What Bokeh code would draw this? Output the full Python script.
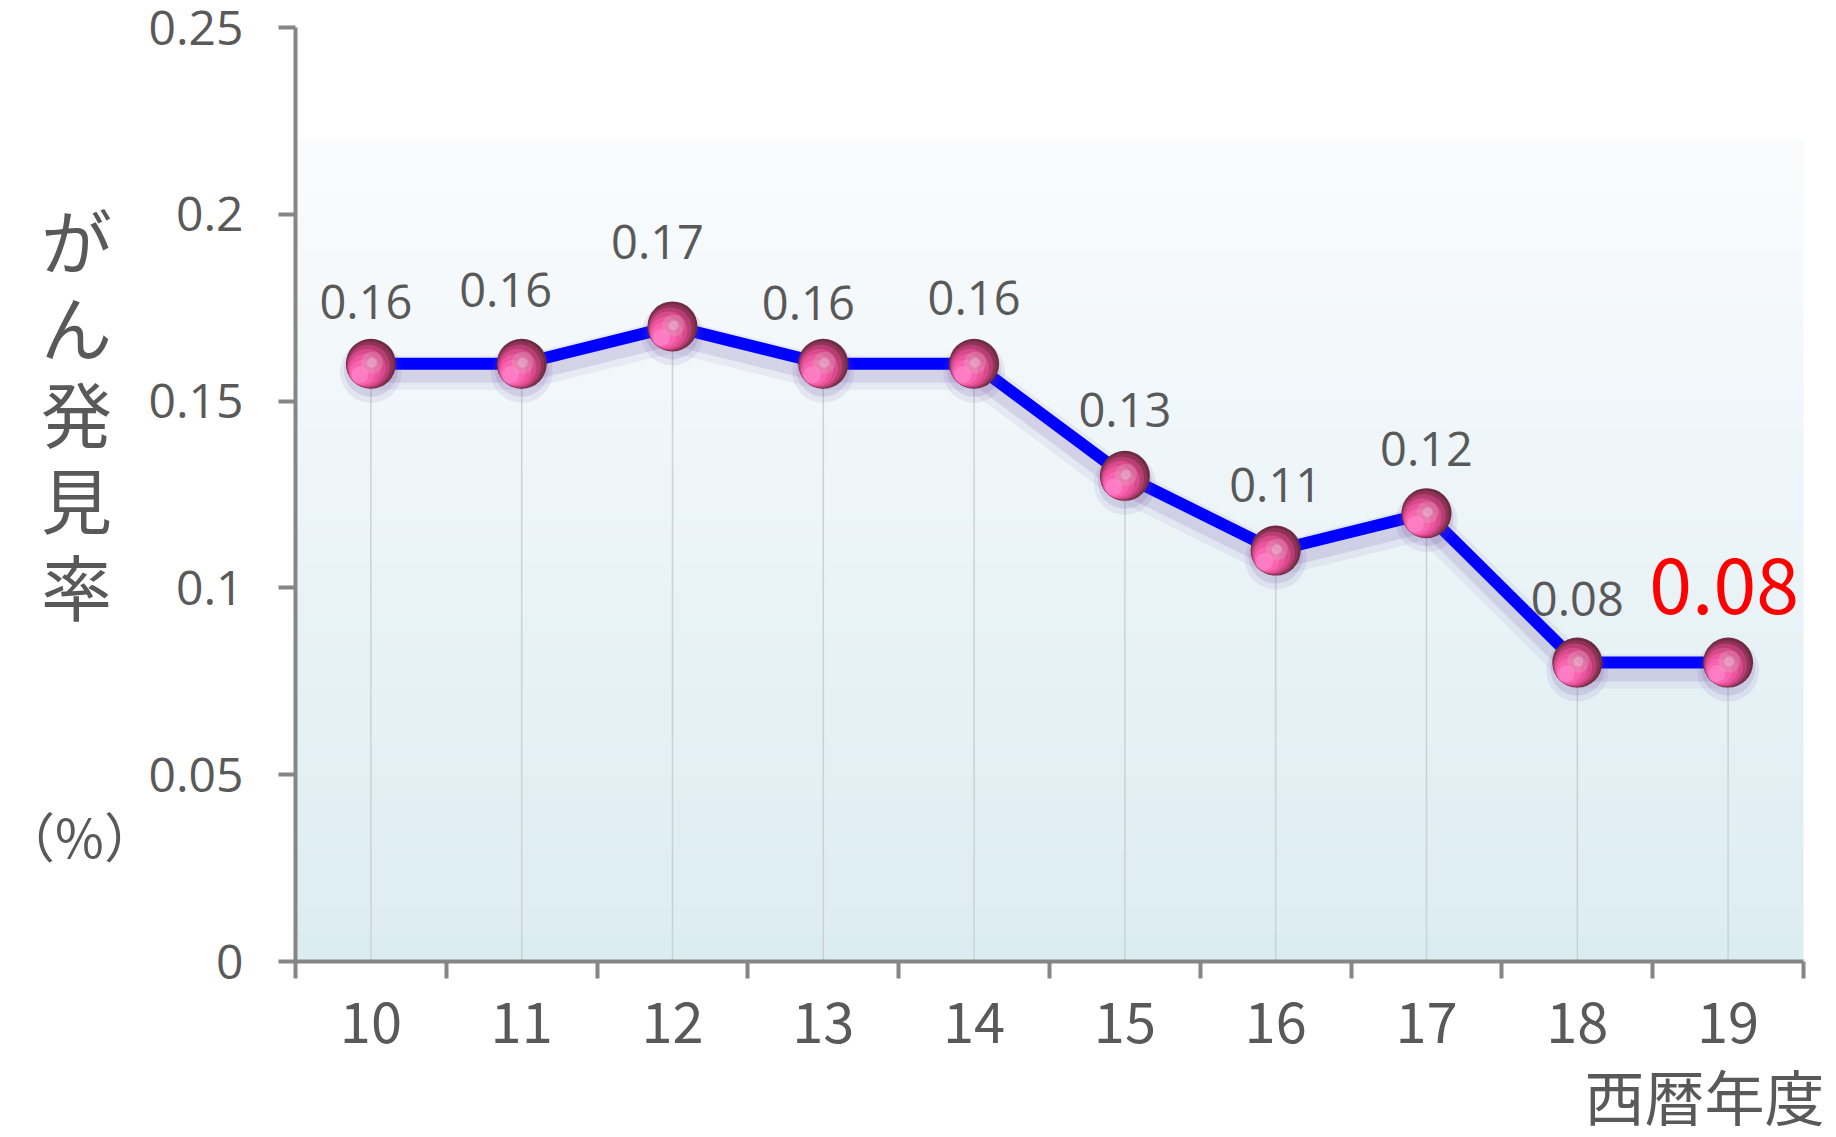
import numpy as np
from bokeh.plotting import figure
from bokeh.models import Range1d, FixedTicker, CustomJSTickFormatter, Label, ColumnDataSource
from bokeh.core.properties import value
from bokeh.embed import file_html
from bokeh.resources import INLINE

# ---------------- data ----------------
years = [10, 11, 12, 13, 14, 15, 16, 17, 18, 19]
rates = [0.16, 0.16, 0.17, 0.16, 0.16, 0.13, 0.11, 0.12, 0.08, 0.08]
rate_labels = ["0.16", "0.16", "0.17", "0.16", "0.16", "0.13", "0.11", "0.12", "0.08", "0.08"]
y_ticks = [0, 0.05, 0.1, 0.15, 0.2, 0.25]
y_title = "がん発見率"
y_unit = "（%）"
x_title = "西暦年度"

# ---------------- layout (canvas pixels) ----------------
W, H = 1830, 1137
AX_L, AX_R, AX_T, AX_B = 295, 1803, 27, 961   # where the axes sit on the canvas
X0, X1 = years[0] - 0.5, years[-1] + 0.5
Y0, Y1 = y_ticks[0], y_ticks[-1]
ppx = (AX_R - AX_L) / (X1 - X0)
ppy = (AX_B - AX_T) / (Y1 - Y0)


def sx(px):
    return X0 + (px - AX_L) / ppx


def sy(py):
    return Y0 + (AX_B - py) / ppy


GRAY = "#595959"
AXIS = "#868686"
NUM_FONT = "Open Sans"
JP_FONT = "Noto Sans CJK JP"

p = figure(width=W, height=H, x_range=Range1d(sx(0), sx(W)), y_range=Range1d(sy(H), sy(0)),
           output_backend="svg", toolbar_location=None,
           min_border_left=0, min_border_right=0, min_border_top=0, min_border_bottom=0)
p.outline_line_color = None
p.grid.visible = False
p.background_fill_color = "white"
p.border_fill_color = "white"

# gradient background of plot area
n = 256
top_frac = 0.22
img = np.empty((n, 1), dtype=np.uint32)
view = img.view(dtype=np.uint8).reshape((n, 1, 4))
c_bot = np.array([0xdc, 0xed, 0xf2])
c_top = np.array([0xfb, 0xfc, 0xfe])
t = np.linspace(0, 1, n)[:, None]
cols = (c_bot * (1 - t) + c_top * t).astype(np.uint8)
view[:, 0, 0] = cols[:, 0]
view[:, 0, 1] = cols[:, 1]
view[:, 0, 2] = cols[:, 2]
view[:, 0, 3] = 255
p.image_rgba(image=[img], x=X0, y=Y0, dw=X1 - X0, dh=top_frac)

# drop lines
p.segment(x0=years, y0=[Y0] * len(years), x1=years, y1=rates,
          line_color="#c8d3d8", line_width=1.5)

# line shadow
sh = 9 / ppy
p.line(years, [v - sh for v in rates], line_color="#6a4fa8", line_alpha=0.08, line_width=34)
p.line(years, [v - sh for v in rates], line_color="#6a4fa8", line_alpha=0.15, line_width=20)
# main line
p.line(years, rates, line_color="#0000ff", line_width=12)

# sphere shadows
p.scatter(years, [v - 8 / ppy for v in rates], size=62, fill_color="#6a4fa8",
          fill_alpha=0.10, line_color=None)
p.scatter(years, [v - 6 / ppy for v in rates], size=54, fill_color="#6a4fa8",
          fill_alpha=0.15, line_color=None)

# spheres (layered circles, bright side toward lower-left)
R = 25
layers = [(50, "#6e2c40"), (47, "#8e3356"), (43, "#b63e72"), (38, "#d84a8c"),
          (32, "#ec56a0"), (25, "#f964b0"), (17, "#ff7cc4")]
for size, color in layers:
    d = (R - size / 2) * 0.95
    ox, oy = -d * 0.707, d * 0.707
    p.scatter([x + ox / ppx for x in years], [v - oy / ppy for v in rates],
              size=size, fill_color=color, line_color=None)
p.scatter([x + 1 / ppx for x in years], [v + 1 / ppy for v in rates], size=22,
          fill_color="#d6aabb", fill_alpha=0.35, line_color=None)
p.scatter([x + 1 / ppx for x in years], [v + 1 / ppy for v in rates], size=10,
          fill_color="#e0ccd3", fill_alpha=0.45, line_color=None)

# data labels
nudge_x = [-5, -16, -15, -15, 0, 0, 0, 0, 0, -4]
nudge_y = [-62, -74, -84, -61, -66, -66, -66, -64, -64, -77]
src = ColumnDataSource(dict(x=years[:-1], y=rates[:-1], t=rate_labels[:-1],
                            dx=nudge_x[:-1], dy=nudge_y[:-1]))
p.text(x="x", y="y", text="t", x_offset="dx", y_offset="dy", source=src,
       text_font=value(NUM_FONT), text_font_size="47px", text_color=GRAY,
       text_align="center", text_baseline="middle")
p.text(x=[years[-1]], y=[rates[-1]], text=[rate_labels[-1]],
       x_offset=nudge_x[-1], y_offset=nudge_y[-1],
       text_font=value(JP_FONT), text_font_size="77px", text_color="#ff0000",
       text_align="center", text_baseline="middle")

# axes, fixed at the data origin inside the full-canvas frame
xa = p.xaxis[0]
xa.fixed_location = Y0
xa.bounds = (X0, X1)
xa.ticker = FixedTicker(ticks=years, minor_ticks=[y - 0.5 for y in years] + [years[-1] + 0.5])
xa.axis_line_color = AXIS
xa.axis_line_width = 4
xa.major_tick_in = 0
xa.major_tick_out = 0
xa.minor_tick_in = 0
xa.minor_tick_out = 17
xa.minor_tick_line_color = AXIS
xa.minor_tick_line_width = 4
xa.major_label_text_font = JP_FONT
xa.major_label_text_font_size = "56px"
xa.major_label_text_color = GRAY
xa.major_label_standoff = 23

ya = p.yaxis[0]
ya.fixed_location = X0
ya.bounds = (Y0, Y1)
ya.ticker = FixedTicker(ticks=y_ticks, minor_ticks=[])
ya.formatter = CustomJSTickFormatter(code="return String(Math.round(tick*100)/100);")
ya.axis_line_color = AXIS
ya.axis_line_width = 4
ya.major_tick_in = 0
ya.major_tick_out = 17
ya.major_tick_line_color = AXIS
ya.major_tick_line_width = 4
ya.minor_tick_out = 0
ya.minor_tick_in = 0
ya.major_label_text_font = NUM_FONT
ya.major_label_text_font_size = "48px"
ya.major_label_text_color = GRAY
ya.major_label_standoff = 35

# titles
for i, ch in enumerate(y_title):
    p.add_layout(Label(x=sx(76), y=sy(237 + 86.5 * i), text=ch, text_font=JP_FONT,
                       text_font_size="71px", text_color=GRAY,
                       text_align="center", text_baseline="middle"))
p.add_layout(Label(x=sx(79), y=sy(834), text=y_unit, text_font=JP_FONT,
                   text_font_size="53px", text_color=GRAY,
                   text_align="center", text_baseline="middle"))
p.add_layout(Label(x=sx(1824), y=sy(1094), text=x_title, text_font=JP_FONT,
                   text_font_size="60px", text_color=GRAY,
                   text_align="right", text_baseline="middle"))

open("out.html", "w").write(file_html(p, INLINE))
